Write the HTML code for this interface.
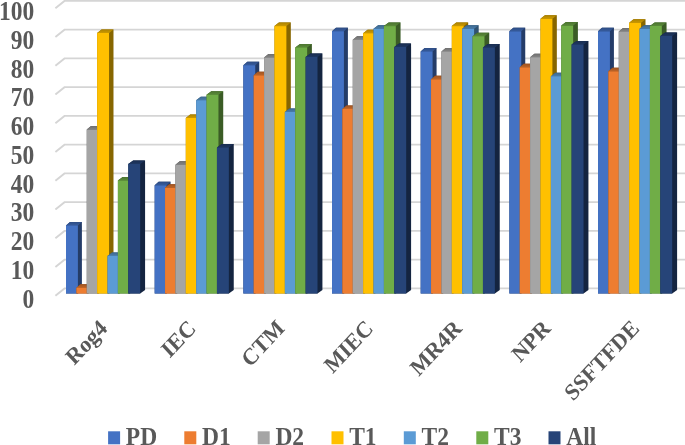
<!DOCTYPE html>
<html><head><meta charset="utf-8"><style>
html,body{margin:0;padding:0;background:#fff;}
svg{display:block;}
text{font-family:"Liberation Serif",serif;}
</style></head><body>
<svg width="685" height="445" viewBox="0 0 685 445" style="will-change:transform">
<defs><linearGradient id="tg" x1="0" y1="0" x2="0" y2="1"><stop offset="0" stop-color="#000" stop-opacity="0.16"/><stop offset="1" stop-color="#000" stop-opacity="0"/></linearGradient></defs>
<rect width="685" height="445" fill="#fff"/>
<g fill="none" stroke="#d5d5d5" stroke-width="1.9"><path d="M55.4 295.70 L64.5 288.40 L685 288.40" /><path d="M55.4 266.95 L64.5 259.65 L685 259.65" /><path d="M55.4 238.20 L64.5 230.90 L685 230.90" /><path d="M55.4 209.45 L64.5 202.15 L685 202.15" /><path d="M55.4 180.70 L64.5 173.40 L685 173.40" /><path d="M55.4 151.95 L64.5 144.65 L685 144.65" /><path d="M55.4 123.20 L64.5 115.90 L685 115.90" /><path d="M55.4 94.45 L64.5 87.15 L685 87.15" /><path d="M55.4 65.70 L64.5 58.40 L685 58.40" /><path d="M55.4 36.95 L64.5 29.65 L685 29.65" /><path d="M55.4 8.20 L64.5 0.90 L685 0.90" /></g>
<g font-family="Liberation Serif" font-weight="bold" font-size="23.5" fill="#595959" text-anchor="end"><text transform="translate(34.3 307.50) scale(1 1.13)">0</text><text transform="translate(34.3 278.75) scale(1 1.13)">10</text><text transform="translate(34.3 250.00) scale(1 1.13)">20</text><text transform="translate(34.3 221.25) scale(1 1.13)">30</text><text transform="translate(34.3 192.50) scale(1 1.13)">40</text><text transform="translate(34.3 163.75) scale(1 1.13)">50</text><text transform="translate(34.3 135.00) scale(1 1.13)">60</text><text transform="translate(34.3 106.25) scale(1 1.13)">70</text><text transform="translate(34.3 77.50) scale(1 1.13)">80</text><text transform="translate(34.3 48.75) scale(1 1.13)">90</text><text transform="translate(34.3 20.00) scale(1 1.13)">100</text></g>
<g><path fill="#243c68" d="M66.00 225.40L70.00 221.90L81.90 221.90L81.90 290.00L77.90 293.50L66.00 293.50Z"/><path fill="#365b9d" d="M66.00 225.40L70.00 221.90L81.90 221.90L77.90 225.40Z"/><path fill="url(#tg)" d="M66.00 225.40L70.00 221.90L81.90 221.90L77.90 225.40Z"/><rect fill="#4472c4" x="66.00" y="225.40" width="11.90" height="68.10"/><path fill="#7e421a" d="M76.38 287.70L80.53 284.20L92.43 284.20L92.43 290.00L88.28 293.50L76.38 293.50Z"/><path fill="#be6427" d="M76.38 287.70L80.53 284.20L92.43 284.20L88.28 287.70Z"/><path fill="url(#tg)" d="M76.38 287.70L80.53 284.20L92.43 284.20L88.28 287.70Z"/><rect fill="#ed7d31" x="76.38" y="287.70" width="11.90" height="5.80"/><path fill="#575757" d="M86.76 129.60L91.06 126.10L102.96 126.10L102.96 290.00L98.66 293.50L86.76 293.50Z"/><path fill="#848484" d="M86.76 129.60L91.06 126.10L102.96 126.10L98.66 129.60Z"/><path fill="url(#tg)" d="M86.76 129.60L91.06 126.10L102.96 126.10L98.66 129.60Z"/><rect fill="#a5a5a5" x="86.76" y="129.60" width="11.90" height="163.90"/><path fill="#876600" d="M97.14 33.00L101.59 29.50L113.49 29.50L113.49 290.00L109.04 293.50L97.14 293.50Z"/><path fill="#cc9a00" d="M97.14 33.00L101.59 29.50L113.49 29.50L109.04 33.00Z"/><path fill="url(#tg)" d="M97.14 33.00L101.59 29.50L113.49 29.50L109.04 33.00Z"/><rect fill="#ffc000" x="97.14" y="33.00" width="11.90" height="260.50"/><path fill="#305271" d="M107.52 255.90L112.12 252.40L124.02 252.40L124.02 290.00L119.42 293.50L107.52 293.50Z"/><path fill="#497caa" d="M107.52 255.90L112.12 252.40L124.02 252.40L119.42 255.90Z"/><path fill="url(#tg)" d="M107.52 255.90L112.12 252.40L124.02 252.40L119.42 255.90Z"/><rect fill="#5b9bd5" x="107.52" y="255.90" width="11.90" height="37.60"/><path fill="#3b5c26" d="M117.90 180.50L122.65 177.00L134.55 177.00L134.55 290.00L129.80 293.50L117.90 293.50Z"/><path fill="#5a8a39" d="M117.90 180.50L122.65 177.00L134.55 177.00L129.80 180.50Z"/><path fill="url(#tg)" d="M117.90 180.50L122.65 177.00L134.55 177.00L129.80 180.50Z"/><rect fill="#70ad47" x="117.90" y="180.50" width="11.90" height="113.00"/><path fill="#142440" d="M128.28 163.90L133.18 160.40L145.08 160.40L145.08 290.00L140.18 293.50L128.28 293.50Z"/><path fill="#1e3660" d="M128.28 163.90L133.18 160.40L145.08 160.40L140.18 163.90Z"/><path fill="url(#tg)" d="M128.28 163.90L133.18 160.40L145.08 160.40L140.18 163.90Z"/><rect fill="#264478" x="128.28" y="163.90" width="11.90" height="129.60"/><path fill="#243c68" d="M154.67 185.30L158.67 181.80L170.57 181.80L170.57 290.00L166.57 293.50L154.67 293.50Z"/><path fill="#365b9d" d="M154.67 185.30L158.67 181.80L170.57 181.80L166.57 185.30Z"/><path fill="url(#tg)" d="M154.67 185.30L158.67 181.80L170.57 181.80L166.57 185.30Z"/><rect fill="#4472c4" x="154.67" y="185.30" width="11.90" height="108.20"/><path fill="#7e421a" d="M165.05 187.80L169.20 184.30L181.10 184.30L181.10 290.00L176.95 293.50L165.05 293.50Z"/><path fill="#be6427" d="M165.05 187.80L169.20 184.30L181.10 184.30L176.95 187.80Z"/><path fill="url(#tg)" d="M165.05 187.80L169.20 184.30L181.10 184.30L176.95 187.80Z"/><rect fill="#ed7d31" x="165.05" y="187.80" width="11.90" height="105.70"/><path fill="#575757" d="M175.43 164.80L179.73 161.30L191.63 161.30L191.63 290.00L187.33 293.50L175.43 293.50Z"/><path fill="#848484" d="M175.43 164.80L179.73 161.30L191.63 161.30L187.33 164.80Z"/><path fill="url(#tg)" d="M175.43 164.80L179.73 161.30L191.63 161.30L187.33 164.80Z"/><rect fill="#a5a5a5" x="175.43" y="164.80" width="11.90" height="128.70"/><path fill="#876600" d="M185.81 118.00L190.26 114.50L202.16 114.50L202.16 290.00L197.71 293.50L185.81 293.50Z"/><path fill="#cc9a00" d="M185.81 118.00L190.26 114.50L202.16 114.50L197.71 118.00Z"/><path fill="url(#tg)" d="M185.81 118.00L190.26 114.50L202.16 114.50L197.71 118.00Z"/><rect fill="#ffc000" x="185.81" y="118.00" width="11.90" height="175.50"/><path fill="#305271" d="M196.19 100.20L200.79 96.70L212.69 96.70L212.69 290.00L208.09 293.50L196.19 293.50Z"/><path fill="#497caa" d="M196.19 100.20L200.79 96.70L212.69 96.70L208.09 100.20Z"/><path fill="url(#tg)" d="M196.19 100.20L200.79 96.70L212.69 96.70L208.09 100.20Z"/><rect fill="#5b9bd5" x="196.19" y="100.20" width="11.90" height="193.30"/><path fill="#3b5c26" d="M206.57 94.70L211.32 91.20L223.22 91.20L223.22 290.00L218.47 293.50L206.57 293.50Z"/><path fill="#5a8a39" d="M206.57 94.70L211.32 91.20L223.22 91.20L218.47 94.70Z"/><path fill="url(#tg)" d="M206.57 94.70L211.32 91.20L223.22 91.20L218.47 94.70Z"/><rect fill="#70ad47" x="206.57" y="94.70" width="11.90" height="198.80"/><path fill="#142440" d="M216.95 147.40L221.85 143.90L233.75 143.90L233.75 290.00L228.85 293.50L216.95 293.50Z"/><path fill="#1e3660" d="M216.95 147.40L221.85 143.90L233.75 143.90L228.85 147.40Z"/><path fill="url(#tg)" d="M216.95 147.40L221.85 143.90L233.75 143.90L228.85 147.40Z"/><rect fill="#264478" x="216.95" y="147.40" width="11.90" height="146.10"/><path fill="#243c68" d="M243.34 65.20L247.34 61.70L259.24 61.70L259.24 290.00L255.24 293.50L243.34 293.50Z"/><path fill="#365b9d" d="M243.34 65.20L247.34 61.70L259.24 61.70L255.24 65.20Z"/><path fill="url(#tg)" d="M243.34 65.20L247.34 61.70L259.24 61.70L255.24 65.20Z"/><rect fill="#4472c4" x="243.34" y="65.20" width="11.90" height="228.30"/><path fill="#7e421a" d="M253.72 75.30L257.87 71.80L269.77 71.80L269.77 290.00L265.62 293.50L253.72 293.50Z"/><path fill="#be6427" d="M253.72 75.30L257.87 71.80L269.77 71.80L265.62 75.30Z"/><path fill="url(#tg)" d="M253.72 75.30L257.87 71.80L269.77 71.80L265.62 75.30Z"/><rect fill="#ed7d31" x="253.72" y="75.30" width="11.90" height="218.20"/><path fill="#575757" d="M264.10 57.50L268.40 54.00L280.30 54.00L280.30 290.00L276.00 293.50L264.10 293.50Z"/><path fill="#848484" d="M264.10 57.50L268.40 54.00L280.30 54.00L276.00 57.50Z"/><path fill="url(#tg)" d="M264.10 57.50L268.40 54.00L280.30 54.00L276.00 57.50Z"/><rect fill="#a5a5a5" x="264.10" y="57.50" width="11.90" height="236.00"/><path fill="#876600" d="M274.48 26.10L278.93 22.60L290.83 22.60L290.83 290.00L286.38 293.50L274.48 293.50Z"/><path fill="#cc9a00" d="M274.48 26.10L278.93 22.60L290.83 22.60L286.38 26.10Z"/><path fill="url(#tg)" d="M274.48 26.10L278.93 22.60L290.83 22.60L286.38 26.10Z"/><rect fill="#ffc000" x="274.48" y="26.10" width="11.90" height="267.40"/><path fill="#305271" d="M284.86 112.00L289.46 108.50L301.36 108.50L301.36 290.00L296.76 293.50L284.86 293.50Z"/><path fill="#497caa" d="M284.86 112.00L289.46 108.50L301.36 108.50L296.76 112.00Z"/><path fill="url(#tg)" d="M284.86 112.00L289.46 108.50L301.36 108.50L296.76 112.00Z"/><rect fill="#5b9bd5" x="284.86" y="112.00" width="11.90" height="181.50"/><path fill="#3b5c26" d="M295.24 47.40L299.99 43.90L311.89 43.90L311.89 290.00L307.14 293.50L295.24 293.50Z"/><path fill="#5a8a39" d="M295.24 47.40L299.99 43.90L311.89 43.90L307.14 47.40Z"/><path fill="url(#tg)" d="M295.24 47.40L299.99 43.90L311.89 43.90L307.14 47.40Z"/><rect fill="#70ad47" x="295.24" y="47.40" width="11.90" height="246.10"/><path fill="#142440" d="M305.62 56.90L310.52 53.40L322.42 53.40L322.42 290.00L317.52 293.50L305.62 293.50Z"/><path fill="#1e3660" d="M305.62 56.90L310.52 53.40L322.42 53.40L317.52 56.90Z"/><path fill="url(#tg)" d="M305.62 56.90L310.52 53.40L322.42 53.40L317.52 56.90Z"/><rect fill="#264478" x="305.62" y="56.90" width="11.90" height="236.60"/><path fill="#243c68" d="M332.01 31.20L336.01 27.70L347.91 27.70L347.91 290.00L343.91 293.50L332.01 293.50Z"/><path fill="#365b9d" d="M332.01 31.20L336.01 27.70L347.91 27.70L343.91 31.20Z"/><path fill="url(#tg)" d="M332.01 31.20L336.01 27.70L347.91 27.70L343.91 31.20Z"/><rect fill="#4472c4" x="332.01" y="31.20" width="11.90" height="262.30"/><path fill="#7e421a" d="M342.39 108.90L346.54 105.40L358.44 105.40L358.44 290.00L354.29 293.50L342.39 293.50Z"/><path fill="#be6427" d="M342.39 108.90L346.54 105.40L358.44 105.40L354.29 108.90Z"/><path fill="url(#tg)" d="M342.39 108.90L346.54 105.40L358.44 105.40L354.29 108.90Z"/><rect fill="#ed7d31" x="342.39" y="108.90" width="11.90" height="184.60"/><path fill="#575757" d="M352.77 39.70L357.07 36.20L368.97 36.20L368.97 290.00L364.67 293.50L352.77 293.50Z"/><path fill="#848484" d="M352.77 39.70L357.07 36.20L368.97 36.20L364.67 39.70Z"/><path fill="url(#tg)" d="M352.77 39.70L357.07 36.20L368.97 36.20L364.67 39.70Z"/><rect fill="#a5a5a5" x="352.77" y="39.70" width="11.90" height="253.80"/><path fill="#876600" d="M363.15 33.20L367.60 29.70L379.50 29.70L379.50 290.00L375.05 293.50L363.15 293.50Z"/><path fill="#cc9a00" d="M363.15 33.20L367.60 29.70L379.50 29.70L375.05 33.20Z"/><path fill="url(#tg)" d="M363.15 33.20L367.60 29.70L379.50 29.70L375.05 33.20Z"/><rect fill="#ffc000" x="363.15" y="33.20" width="11.90" height="260.30"/><path fill="#305271" d="M373.53 28.80L378.13 25.30L390.03 25.30L390.03 290.00L385.43 293.50L373.53 293.50Z"/><path fill="#497caa" d="M373.53 28.80L378.13 25.30L390.03 25.30L385.43 28.80Z"/><path fill="url(#tg)" d="M373.53 28.80L378.13 25.30L390.03 25.30L385.43 28.80Z"/><rect fill="#5b9bd5" x="373.53" y="28.80" width="11.90" height="264.70"/><path fill="#3b5c26" d="M383.91 26.10L388.66 22.60L400.56 22.60L400.56 290.00L395.81 293.50L383.91 293.50Z"/><path fill="#5a8a39" d="M383.91 26.10L388.66 22.60L400.56 22.60L395.81 26.10Z"/><path fill="url(#tg)" d="M383.91 26.10L388.66 22.60L400.56 22.60L395.81 26.10Z"/><rect fill="#70ad47" x="383.91" y="26.10" width="11.90" height="267.40"/><path fill="#142440" d="M394.29 47.00L399.19 43.50L411.09 43.50L411.09 290.00L406.19 293.50L394.29 293.50Z"/><path fill="#1e3660" d="M394.29 47.00L399.19 43.50L411.09 43.50L406.19 47.00Z"/><path fill="url(#tg)" d="M394.29 47.00L399.19 43.50L411.09 43.50L406.19 47.00Z"/><rect fill="#264478" x="394.29" y="47.00" width="11.90" height="246.50"/><path fill="#243c68" d="M420.68 51.40L424.68 47.90L436.58 47.90L436.58 290.00L432.58 293.50L420.68 293.50Z"/><path fill="#365b9d" d="M420.68 51.40L424.68 47.90L436.58 47.90L432.58 51.40Z"/><path fill="url(#tg)" d="M420.68 51.40L424.68 47.90L436.58 47.90L432.58 51.40Z"/><rect fill="#4472c4" x="420.68" y="51.40" width="11.90" height="242.10"/><path fill="#7e421a" d="M431.06 79.30L435.21 75.80L447.11 75.80L447.11 290.00L442.96 293.50L431.06 293.50Z"/><path fill="#be6427" d="M431.06 79.30L435.21 75.80L447.11 75.80L442.96 79.30Z"/><path fill="url(#tg)" d="M431.06 79.30L435.21 75.80L447.11 75.80L442.96 79.30Z"/><rect fill="#ed7d31" x="431.06" y="79.30" width="11.90" height="214.20"/><path fill="#575757" d="M441.44 51.40L445.74 47.90L457.64 47.90L457.64 290.00L453.34 293.50L441.44 293.50Z"/><path fill="#848484" d="M441.44 51.40L445.74 47.90L457.64 47.90L453.34 51.40Z"/><path fill="url(#tg)" d="M441.44 51.40L445.74 47.90L457.64 47.90L453.34 51.40Z"/><rect fill="#a5a5a5" x="441.44" y="51.40" width="11.90" height="242.10"/><path fill="#876600" d="M451.82 26.10L456.27 22.60L468.17 22.60L468.17 290.00L463.72 293.50L451.82 293.50Z"/><path fill="#cc9a00" d="M451.82 26.10L456.27 22.60L468.17 22.60L463.72 26.10Z"/><path fill="url(#tg)" d="M451.82 26.10L456.27 22.60L468.17 22.60L463.72 26.10Z"/><rect fill="#ffc000" x="451.82" y="26.10" width="11.90" height="267.40"/><path fill="#305271" d="M462.20 28.80L466.80 25.30L478.70 25.30L478.70 290.00L474.10 293.50L462.20 293.50Z"/><path fill="#497caa" d="M462.20 28.80L466.80 25.30L478.70 25.30L474.10 28.80Z"/><path fill="url(#tg)" d="M462.20 28.80L466.80 25.30L478.70 25.30L474.10 28.80Z"/><rect fill="#5b9bd5" x="462.20" y="28.80" width="11.90" height="264.70"/><path fill="#3b5c26" d="M472.58 36.20L477.33 32.70L489.23 32.70L489.23 290.00L484.48 293.50L472.58 293.50Z"/><path fill="#5a8a39" d="M472.58 36.20L477.33 32.70L489.23 32.70L484.48 36.20Z"/><path fill="url(#tg)" d="M472.58 36.20L477.33 32.70L489.23 32.70L484.48 36.20Z"/><rect fill="#70ad47" x="472.58" y="36.20" width="11.90" height="257.30"/><path fill="#142440" d="M482.96 47.40L487.86 43.90L499.76 43.90L499.76 290.00L494.86 293.50L482.96 293.50Z"/><path fill="#1e3660" d="M482.96 47.40L487.86 43.90L499.76 43.90L494.86 47.40Z"/><path fill="url(#tg)" d="M482.96 47.40L487.86 43.90L499.76 43.90L494.86 47.40Z"/><rect fill="#264478" x="482.96" y="47.40" width="11.90" height="246.10"/><path fill="#243c68" d="M509.35 31.30L513.35 27.80L525.25 27.80L525.25 290.00L521.25 293.50L509.35 293.50Z"/><path fill="#365b9d" d="M509.35 31.30L513.35 27.80L525.25 27.80L521.25 31.30Z"/><path fill="url(#tg)" d="M509.35 31.30L513.35 27.80L525.25 27.80L521.25 31.30Z"/><rect fill="#4472c4" x="509.35" y="31.30" width="11.90" height="262.20"/><path fill="#7e421a" d="M519.73 67.30L523.88 63.80L535.78 63.80L535.78 290.00L531.63 293.50L519.73 293.50Z"/><path fill="#be6427" d="M519.73 67.30L523.88 63.80L535.78 63.80L531.63 67.30Z"/><path fill="url(#tg)" d="M519.73 67.30L523.88 63.80L535.78 63.80L531.63 67.30Z"/><rect fill="#ed7d31" x="519.73" y="67.30" width="11.90" height="226.20"/><path fill="#575757" d="M530.11 57.20L534.41 53.70L546.31 53.70L546.31 290.00L542.01 293.50L530.11 293.50Z"/><path fill="#848484" d="M530.11 57.20L534.41 53.70L546.31 53.70L542.01 57.20Z"/><path fill="url(#tg)" d="M530.11 57.20L534.41 53.70L546.31 53.70L542.01 57.20Z"/><rect fill="#a5a5a5" x="530.11" y="57.20" width="11.90" height="236.30"/><path fill="#876600" d="M540.49 18.80L544.94 15.30L556.84 15.30L556.84 290.00L552.39 293.50L540.49 293.50Z"/><path fill="#cc9a00" d="M540.49 18.80L544.94 15.30L556.84 15.30L552.39 18.80Z"/><path fill="url(#tg)" d="M540.49 18.80L544.94 15.30L556.84 15.30L552.39 18.80Z"/><rect fill="#ffc000" x="540.49" y="18.80" width="11.90" height="274.70"/><path fill="#305271" d="M550.87 76.20L555.47 72.70L567.37 72.70L567.37 290.00L562.77 293.50L550.87 293.50Z"/><path fill="#497caa" d="M550.87 76.20L555.47 72.70L567.37 72.70L562.77 76.20Z"/><path fill="url(#tg)" d="M550.87 76.20L555.47 72.70L567.37 72.70L562.77 76.20Z"/><rect fill="#5b9bd5" x="550.87" y="76.20" width="11.90" height="217.30"/><path fill="#3b5c26" d="M561.25 25.60L566.00 22.10L577.90 22.10L577.90 290.00L573.15 293.50L561.25 293.50Z"/><path fill="#5a8a39" d="M561.25 25.60L566.00 22.10L577.90 22.10L573.15 25.60Z"/><path fill="url(#tg)" d="M561.25 25.60L566.00 22.10L577.90 22.10L573.15 25.60Z"/><rect fill="#70ad47" x="561.25" y="25.60" width="11.90" height="267.90"/><path fill="#142440" d="M571.63 44.40L576.53 40.90L588.43 40.90L588.43 290.00L583.53 293.50L571.63 293.50Z"/><path fill="#1e3660" d="M571.63 44.40L576.53 40.90L588.43 40.90L583.53 44.40Z"/><path fill="url(#tg)" d="M571.63 44.40L576.53 40.90L588.43 40.90L583.53 44.40Z"/><rect fill="#264478" x="571.63" y="44.40" width="11.90" height="249.10"/><path fill="#243c68" d="M598.02 31.30L602.02 27.80L613.92 27.80L613.92 290.00L609.92 293.50L598.02 293.50Z"/><path fill="#365b9d" d="M598.02 31.30L602.02 27.80L613.92 27.80L609.92 31.30Z"/><path fill="url(#tg)" d="M598.02 31.30L602.02 27.80L613.92 27.80L609.92 31.30Z"/><rect fill="#4472c4" x="598.02" y="31.30" width="11.90" height="262.20"/><path fill="#7e421a" d="M608.40 71.30L612.55 67.80L624.45 67.80L624.45 290.00L620.30 293.50L608.40 293.50Z"/><path fill="#be6427" d="M608.40 71.30L612.55 67.80L624.45 67.80L620.30 71.30Z"/><path fill="url(#tg)" d="M608.40 71.30L612.55 67.80L624.45 67.80L620.30 71.30Z"/><rect fill="#ed7d31" x="608.40" y="71.30" width="11.90" height="222.20"/><path fill="#575757" d="M618.78 31.50L623.08 28.00L634.98 28.00L634.98 290.00L630.68 293.50L618.78 293.50Z"/><path fill="#848484" d="M618.78 31.50L623.08 28.00L634.98 28.00L630.68 31.50Z"/><path fill="url(#tg)" d="M618.78 31.50L623.08 28.00L634.98 28.00L630.68 31.50Z"/><rect fill="#a5a5a5" x="618.78" y="31.50" width="11.90" height="262.00"/><path fill="#876600" d="M629.16 22.80L633.61 19.30L645.51 19.30L645.51 290.00L641.06 293.50L629.16 293.50Z"/><path fill="#cc9a00" d="M629.16 22.80L633.61 19.30L645.51 19.30L641.06 22.80Z"/><path fill="url(#tg)" d="M629.16 22.80L633.61 19.30L645.51 19.30L641.06 22.80Z"/><rect fill="#ffc000" x="629.16" y="22.80" width="11.90" height="270.70"/><path fill="#305271" d="M639.54 28.80L644.14 25.30L656.04 25.30L656.04 290.00L651.44 293.50L639.54 293.50Z"/><path fill="#497caa" d="M639.54 28.80L644.14 25.30L656.04 25.30L651.44 28.80Z"/><path fill="url(#tg)" d="M639.54 28.80L644.14 25.30L656.04 25.30L651.44 28.80Z"/><rect fill="#5b9bd5" x="639.54" y="28.80" width="11.90" height="264.70"/><path fill="#3b5c26" d="M649.92 26.00L654.67 22.50L666.57 22.50L666.57 290.00L661.82 293.50L649.92 293.50Z"/><path fill="#5a8a39" d="M649.92 26.00L654.67 22.50L666.57 22.50L661.82 26.00Z"/><path fill="url(#tg)" d="M649.92 26.00L654.67 22.50L666.57 22.50L661.82 26.00Z"/><rect fill="#70ad47" x="649.92" y="26.00" width="11.90" height="267.50"/><path fill="#142440" d="M660.30 36.00L665.20 32.50L677.10 32.50L677.10 290.00L672.20 293.50L660.30 293.50Z"/><path fill="#1e3660" d="M660.30 36.00L665.20 32.50L677.10 32.50L672.20 36.00Z"/><path fill="url(#tg)" d="M660.30 36.00L665.20 32.50L677.10 32.50L672.20 36.00Z"/><rect fill="#264478" x="660.30" y="36.00" width="11.90" height="257.50"/></g>
<g font-family="Liberation Serif" font-weight="bold" font-size="21.7" fill="#595959" text-anchor="end"><text transform="translate(108.40 329.60) scale(1 1.07) rotate(-45)">Rog4</text><text transform="translate(197.07 329.60) scale(1 1.07) rotate(-45)">IEC</text><text transform="translate(285.74 329.60) scale(1 1.07) rotate(-45)">CTM</text><text transform="translate(374.41 329.60) scale(1 1.07) rotate(-45)">MIEC</text><text transform="translate(463.08 329.60) scale(1 1.07) rotate(-45)">MR4R</text><text transform="translate(551.75 329.60) scale(1 1.07) rotate(-45)">NPR</text><text transform="translate(640.42 329.60) scale(1 1.07) rotate(-45)">SSFTFDE</text></g>
<g font-family="Liberation Serif" font-weight="bold" font-size="23.5" fill="#595959"><rect x="108.10" y="431.3" width="12" height="13.0" fill="#4472c4"/><text transform="translate(125.80 444.5) scale(1 1.05)">PD</text><rect x="184.30" y="431.3" width="12" height="13.0" fill="#ed7d31"/><text transform="translate(202.00 444.5) scale(1 1.05)">D1</text><rect x="257.70" y="431.3" width="12" height="13.0" fill="#a5a5a5"/><text transform="translate(275.40 444.5) scale(1 1.05)">D2</text><rect x="331.50" y="431.3" width="12" height="13.0" fill="#ffc000"/><text transform="translate(349.20 444.5) scale(1 1.05)">T1</text><rect x="403.80" y="431.3" width="12" height="13.0" fill="#5b9bd5"/><text transform="translate(421.50 444.5) scale(1 1.05)">T2</text><rect x="476.30" y="431.3" width="12" height="13.0" fill="#70ad47"/><text transform="translate(494.00 444.5) scale(1 1.05)">T3</text><rect x="548.50" y="431.3" width="12" height="13.0" fill="#264478"/><text transform="translate(566.20 444.5) scale(1 1.05)">All</text></g>
</svg>
</body></html>
